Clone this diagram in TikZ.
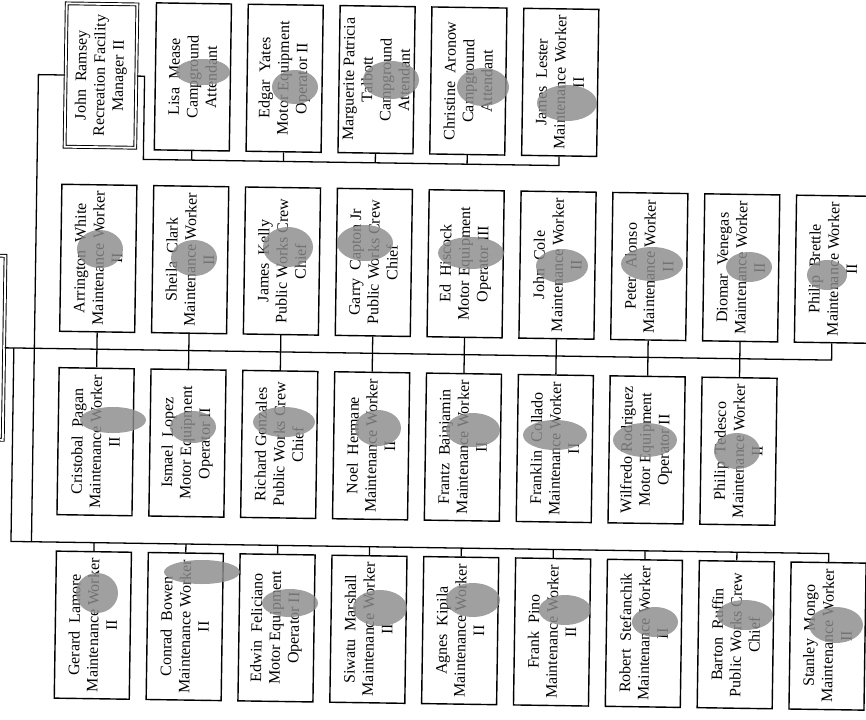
\documentclass[tikz,border=0pt]{standalone}
\usepackage{fontspec}
\setmainfont{Liberation Serif}
\newcommand\smudge[4]{\fill[smudge] (#1,#2) ellipse [x radius=#3*0.03cm, y radius=#4*0.03cm];}
\begin{document}
\begin{tikzpicture}[x=0.03cm,y=-0.03cm,
  box/.style={draw, line width=1.2pt, rotate=90, minimum width=4.41cm, minimum height=2.25cm,
    inner sep=0pt, align=center, font=\fontsize{13.6}{15.8}\selectfont},
  dbox/.style={box, double, double distance=1.6pt, line width=0.8pt, minimum width=4.3cm, minimum height=2.12cm},
  headbox/.style={draw, double, double distance=1.6pt, line width=0.8pt, minimum width=3cm, minimum height=5.52cm, inner sep=0pt},
  conn/.style={line width=1.1pt},
  smudge/.style={fill=black!45, fill opacity=0.82}]
\useasboundingbox (0,0) rectangle (866,719);
\fill[white] (0,0) rectangle (866,719);
\begin{scope}[rotate around={-0.85:(433,360)}, transform shape]
% head (cut off at the left edge)
\node[headbox] (head) at (-46,354.2) {};
% row 1
\node[dbox] (a0) at (96.8,80.5) {John~~Ramsey\\Recreation Facility\\Manager II};
\node[box] (a1) at (188.7,80.5) {Lisa~~Mease\\Campground\\Attendant};
\node[box] (a2) at (280.5,80.5) {Edgar~~Yates\\Motor Equipment\\Operator II};
\node[box] (a3) at (372.4,80.5) {Marguerite Patricia\\Talbott\\Campground\\Attendant};
\node[box] (a4) at (464.2,80.5) {Christine~~Aronow\\Campground\\Attendant};
\node[box] (a5) at (556.1,80.5) {James~~Lester\\Maintenance Worker\\II};
% row 2
\node[box] (b0) at (96.8,263.3) {Arrington~~White\\Maintenance Worker\\II};
\node[box] (b1) at (188.7,263.3) {Sheila~~Clark\\Maintenance Worker\\II};
\node[box] (b2) at (280.5,263.3) {James~~Kelly\\Public Works Crew\\Chief};
\node[box] (b3) at (372.4,263.3) {Garry~~Capton Jr\\Public Works Crew\\Chief};
\node[box] (b4) at (464.2,263.3) {Ed~~Hiscock\\Motor Equipment\\Operator III};
\node[box] (b5) at (556.1,263.3) {John~~Cole\\Maintenance Worker\\II};
\node[box] (b6) at (647.9,263.3) {Peter~~Alonso\\Maintenance Worker\\II};
\node[box] (b7) at (739.8,263.3) {Diomar~~Venegas\\Maintenance Worker\\II};
\node[box] (b8) at (831.6,263.3) {Philip~~Brettle\\Maintenance Worker\\II};
% row 3
\node[box] (c0) at (96.8,446.7) {Cristobal~~Pagan\\Maintenance Worker\\II};
\node[box] (c1) at (188.7,446.7) {Ismael~~Lopez\\Motor Equipment\\Operator II};
\node[box] (c2) at (280.5,446.7) {Richard Gonzales\\Public Works Crew\\Chief};
\node[box] (c3) at (372.4,446.7) {Noel~~Hermane\\Maintenance Worker\\II};
\node[box] (c4) at (464.2,446.7) {Frantz~~Bainjamin\\Maintenance Worker\\II};
\node[box] (c5) at (556.1,446.7) {Franklin~~Collado\\Maintenance Worker\\II};
\node[box] (c6) at (647.9,446.7) {Wilfredo Rodriguez\\Motor Equipment\\Operator II};
\node[box] (c7) at (739.8,446.7) {Philip~~Tedesco\\Maintenance Worker\\II};
% row 4
\node[box] (d0) at (96.8,630.2) {Gerard~~Lamore\\Maintenance Worker\\II};
\node[box] (d1) at (188.7,630.2) {Conrad~~Bowen\\Maintenance Worker\\II};
\node[box] (d2) at (280.5,630.2) {Edwin~~Feliciano\\Motor Equipment\\Operator II};
\node[box] (d3) at (372.4,630.2) {Siwatu~~Marshall\\Maintenance Worker\\II};
\node[box] (d4) at (464.2,630.2) {Agnes~~Kipila\\Maintenance Worker\\II};
\node[box] (d5) at (556.1,630.2) {Frank~~Pino\\Maintenance Worker\\II};
\node[box] (d6) at (647.9,630.2) {Robert~~Stefanchik\\Maintenance Worker\\II};
\node[box] (d7) at (739.8,630.2) {Barton~~Ruffin\\Public Works Crew\\Chief};
\node[box] (d8) at (831.6,630.2) {Stanley~~Mongo\\Maintenance Worker\\II};
% connector corners
\coordinate (tL) at (140.4,163.7);
\coordinate (bL) at (34.2,547.7);
\coordinate (mL) at (13.7,354.2);
\coordinate (bB) at (13.7,547.7);
% top group
\draw[conn] (a0.south) -| (tL) -| (a5.west);
\foreach \n in {a1,a2,a3,a4} \draw[conn] (\n.west) -- (\n.west |- tL);
% left vertical from the manager
\draw[conn] (a0.north) -| (bL);
% middle bus
\draw[conn] (head.east) -| (b8.west);
\foreach \i in {0,...,7} \draw[conn] (b\i.west) -- (c\i.east);
% bottom bus
\draw[conn] (mL) -- (bB) -| (d8.east);
\foreach \i in {0,...,7} \draw[conn] (d\i.east) -- (d\i.east |- bB);
\end{scope}
% redaction smudges
\smudge{203}{72}{27}{13}
\smudge{295}{87}{23}{17}
\smudge{391}{80}{28}{19}
\smudge{483}{87}{26}{19}
\smudge{567}{103}{30}{18}
\smudge{100}{249}{23}{19}
\smudge{194}{258}{23}{18}
\smudge{288}{247}{25}{20}
\smudge{365}{243}{28}{18}
\smudge{471}{253}{33}{16}
\smudge{562}{266}{26}{17}
\smudge{652}{264}{31}{17}
\smudge{749}{267}{23}{15}
\smudge{827}{275}{20}{15}
\smudge{113}{420}{33}{13}
\smudge{193}{427}{23}{16}
\smudge{284}{422}{31}{15}
\smudge{378}{428}{23}{18}
\smudge{473}{430}{27}{17}
\smudge{555}{435}{32}{15}
\smudge{645}{440}{32}{17}
\smudge{737}{451}{23}{18}
\smudge{97}{593}{21}{20}
\smudge{202}{572}{38}{12}
\smudge{290}{603}{28}{14}
\smudge{380}{608}{27}{18}
\smudge{473}{600}{27}{17}
\smudge{565}{610}{26}{15}
\smudge{655}{622}{23}{15}
\smudge{745}{615}{28}{15}
\smudge{836}{625}{27}{18}
\end{tikzpicture}
\end{document}
